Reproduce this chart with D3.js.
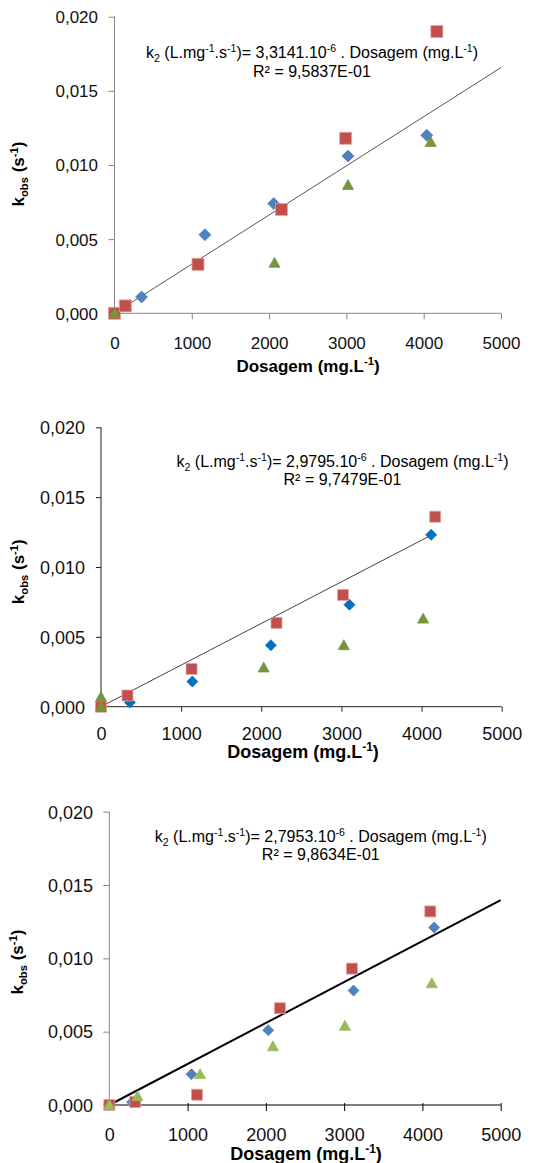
<!DOCTYPE html>
<html>
<head>
<meta charset="utf-8">
<script src="https://cdn.jsdelivr.net/npm/d3@7"></script>
<style>
  html, body { margin: 0; padding: 0; background: #fff; }
  svg { display: block; }
  text { font-family: "Liberation Sans", Arial, sans-serif; }
</style>
</head>
<body>
<svg id="chart" width="534" height="1163"></svg>
<script>
// Shared axis ticks
const xTicks = [0, 1000, 2000, 3000, 4000, 5000];
const yTicks = [0, 0.005, 0.010, 0.015, 0.020];

// Panel 1 — kobs versus dosage
const p1BlueX  = [0, 350, 1170, 2060, 3020, 4040];
const p1BlueY  = [0, 0.0011, 0.0053, 0.0074, 0.0106, 0.0120];
const p1RedX   = [0, 140, 1080, 2160, 2990, 4170];
const p1RedY   = [0, 0.0005, 0.0033, 0.0070, 0.0118, 0.0190];
const p1GreenX = [0, 2070, 3020, 4090];
const p1GreenY = [0, 0.0034, 0.00865, 0.01155];

// Panel 2
const p2BlueX  = [0, 360, 1140, 2120, 3100, 4120];
const p2BlueY  = [0, 0.0003, 0.0018, 0.0044, 0.0073, 0.0123];
const p2RedX   = [0, 330, 1130, 2190, 3020, 4170];
const p2RedY   = [0, 0.0008, 0.0027, 0.0060, 0.0080, 0.0136];
const p2GreenX = [0, 0, 2030, 3030, 4020];
const p2GreenY = [0, 0.0007, 0.0028, 0.0044, 0.0063];

// Panel 3
const p3BlueX  = [0, 290, 1050, 2030, 3120, 4150];
const p3BlueY  = [0, 0.0002, 0.0021, 0.0051, 0.0078, 0.0121];
const p3RedX   = [0, 330, 1120, 2180, 3100, 4100];
const p3RedY   = [0, 0.0002, 0.0007, 0.0066, 0.0093, 0.0132];
const p3GreenX = [0, 360, 1160, 2090, 3010, 4120];
const p3GreenY = [0, 0.0006, 0.0021, 0.0040, 0.0054, 0.0083];

// Linear fits through the origin (k2) and their R²
const slopes      = [3.3141e-6, 2.9795e-6, 2.7953e-6];
const slopeLabels = ["3,3141.10", "2,9795.10", "2,7953.10"];
const r2Labels    = ["R² = 9,5837E-01", "R² = 9,7479E-01", "R² = 9,8634E-01"];
const fitEndX     = [5000, 4130, 5000];

const svg = d3.select("#chart");
const zip = (xs, ys) => xs.map((x, i) => ({ x, y: ys[i] }));
const comma = s => s.replace(".", ",");

// Writes text made of normal / sub / superscript runs as tspans;
// the baseline offset of a script run is undone on the following run.
function richText(sel, parts, size) {
  let offset = 0;
  parts.forEach(p => {
    const target = p.s === "sub" ? size * 0.22 : p.s === "sup" ? -size * 0.38 : 0;
    const fs = p.s ? size * 0.66 : size;
    sel.append("tspan").attr("dy", target - offset).attr("font-size", fs).text(p.t);
    offset = target;
  });
}

const panels = [
  {
    series: [
      { pts: zip(p1BlueX, p1BlueY), shape: "diamond", fill: "#4F81BD", stroke: "#4F81BD", size: 12 },
      { pts: zip(p1RedX, p1RedY), shape: "square", fill: "#C0504D", stroke: "#E8A09E", size: 12 },
      { pts: zip(p1GreenX, p1GreenY), shape: "triangle", fill: "#77933C", stroke: "#77933C", size: 11 }
    ],
    xr: [114.5, 501], yr: [313.3, 16.7],
    axisColor: "#868686", xAxisColor: "#868686",
    tickSize: 6, xTickUp: 0, tickFont: 17,
    yLabelRight: 98, xLabelBase: 348.7,
    xTitle: { x: 308, y: 371.7, size: 17 },
    yTitle: { x: 24, y: 174, size: 17 },
    eq: { x: 312, y1: 58.3, y2: 76.7, size: 16 },
    fit: { color: "#555", width: 1 }
  },
  {
    series: [
      { pts: zip(p2BlueX, p2BlueY), shape: "diamond", fill: "#0070C0", stroke: "#0070C0", size: 11 },
      { pts: zip(p2RedX, p2RedY), shape: "square", fill: "#C0504D", stroke: "#E8A09E", size: 11 },
      { pts: zip(p2GreenX, p2GreenY), shape: "triangle", fill: "#77933C", stroke: "#77933C", size: 11 }
    ],
    xr: [101, 501.7], yr: [706.7, 427.3],
    axisColor: "#222", xAxisColor: "#222",
    tickSize: 5, xTickUp: 0, tickFont: 18,
    yLabelRight: 85, xLabelBase: 740,
    xTitle: { x: 303, y: 757.7, size: 18 },
    yTitle: { x: 24, y: 571.7, size: 17 },
    eq: { x: 342.5, y1: 467.3, y2: 485, size: 16 },
    fit: { color: "#444", width: 1 }
  },
  {
    series: [
      { pts: zip(p3BlueX, p3BlueY), shape: "diamond", fill: "#4F81BD", stroke: "#4F81BD", size: 11 },
      { pts: zip(p3RedX, p3RedY), shape: "square", fill: "#C0504D", stroke: "#E8A09E", size: 11 },
      { pts: zip(p3GreenX, p3GreenY), shape: "triangle", fill: "#9BBB59", stroke: "#9BBB59", size: 11 }
    ],
    xr: [109.3, 500.7], yr: [1105, 811.7],
    axisColor: "#868686", xAxisColor: "#000",
    tickSize: 6, xTickUp: 2, tickFont: 18,
    yLabelRight: 93, xLabelBase: 1141,
    xTitle: { x: 306, y: 1160, size: 18 },
    yTitle: { x: 23, y: 962, size: 17 },
    eq: { x: 320.8, y1: 842.3, y2: 860, size: 16 },
    fit: { color: "#000", width: 2 }
  }
];

function markerPath(shape, s) {
  const h = s / 2;
  if (shape === "square") return `M${-h},${-h}H${h}V${h}H${-h}Z`;
  if (shape === "diamond") return `M0,${-h}L${h},0L0,${h}L${-h},0Z`;
  // triangle, centred on the point
  return `M0,${-h}L${h},${h * 0.8}L${-h},${h * 0.8}Z`;
}

panels.forEach((p, i) => {
  const g = svg.append("g");
  const x = d3.scaleLinear().domain([0, 5000]).range(p.xr);
  const y = d3.scaleLinear().domain([0, 0.02]).range(p.yr);

  // Y axis
  const ya = g.append("g").attr("transform", `translate(${p.xr[0]},0)`)
    .call(d3.axisLeft(y).tickValues(yTicks).tickSize(p.tickSize)
      .tickFormat(d => comma(d3.format(".3f")(d))));
  ya.select(".domain").attr("stroke", p.axisColor).attr("d", `M0,${p.yr[0]}V${p.yr[1]}`);
  ya.selectAll(".tick line").attr("stroke", p.axisColor);
  ya.selectAll(".tick text")
    .attr("x", p.yLabelRight - p.xr[0]).attr("dy", "0.35em")
    .attr("text-anchor", "end").attr("fill", "#111")
    .attr("font-size", p.tickFont).attr("font-family", null);

  // X axis
  const xa = g.append("g").attr("transform", `translate(0,${p.yr[0]})`)
    .call(d3.axisBottom(x).tickValues(xTicks).tickSize(p.tickSize).tickFormat(d3.format("d")));
  xa.select(".domain").attr("stroke", p.xAxisColor).attr("d", `M${p.xr[0]},0H${p.xr[1]}`);
  xa.selectAll(".tick line").attr("stroke", p.xAxisColor).attr("y1", -p.xTickUp);
  xa.selectAll(".tick text")
    .attr("y", p.xLabelBase - p.yr[0]).attr("dy", 0)
    .attr("fill", "#111").attr("font-size", p.tickFont).attr("font-family", null);
  xa.selectAll(".tick").filter(d => d === 0).select("line").remove();

  // Axis titles
  const xt = g.append("text").attr("x", p.xTitle.x).attr("y", p.xTitle.y)
    .attr("text-anchor", "middle").attr("font-weight", "bold").attr("fill", "#000");
  richText(xt, [{ t: "Dosagem (mg.L" }, { t: "-1", s: "sup" }, { t: ")" }], p.xTitle.size);

  const yt = g.append("text")
    .attr("transform", `translate(${p.yTitle.x},${p.yTitle.y}) rotate(-90)`)
    .attr("text-anchor", "middle").attr("font-weight", "bold").attr("fill", "#000");
  richText(yt, [{ t: "k" }, { t: "obs", s: "sub" }, { t: " (s" }, { t: "-1", s: "sup" }, { t: ")" }], p.yTitle.size);

  // Fitted line through the origin
  const fitPts = [0, fitEndX[i]].map(v => ({ x: v, y: slopes[i] * v }));
  g.append("path")
    .attr("d", d3.line().x(d => x(d.x)).y(d => y(d.y))(fitPts))
    .attr("fill", "none").attr("stroke", p.fit.color).attr("stroke-width", p.fit.width);

  // Data markers
  p.series.forEach(s => {
    g.append("g").selectAll("path").data(s.pts).join("path")
      .attr("transform", d => `translate(${x(d.x)},${y(d.y)})`)
      .attr("d", markerPath(s.shape, s.size))
      .attr("fill", s.fill).attr("stroke", s.stroke).attr("stroke-width", 0.8);
  });

  // Fit equation and R²
  const eq = g.append("text").attr("x", p.eq.x).attr("y", p.eq.y1)
    .attr("text-anchor", "middle").attr("fill", "#000");
  richText(eq, [
    { t: "k" }, { t: "2", s: "sub" }, { t: " (L.mg" }, { t: "-1", s: "sup" },
    { t: ".s" }, { t: "-1", s: "sup" }, { t: ")= " + slopeLabels[i] }, { t: "-6", s: "sup" },
    { t: " . Dosagem (mg.L" }, { t: "-1", s: "sup" }, { t: ")" }
  ], p.eq.size);
  g.append("text").attr("x", p.eq.x).attr("y", p.eq.y2)
    .attr("text-anchor", "middle").attr("fill", "#000").attr("font-size", p.eq.size)
    .text(r2Labels[i]);
});
</script>
</body>
</html>
